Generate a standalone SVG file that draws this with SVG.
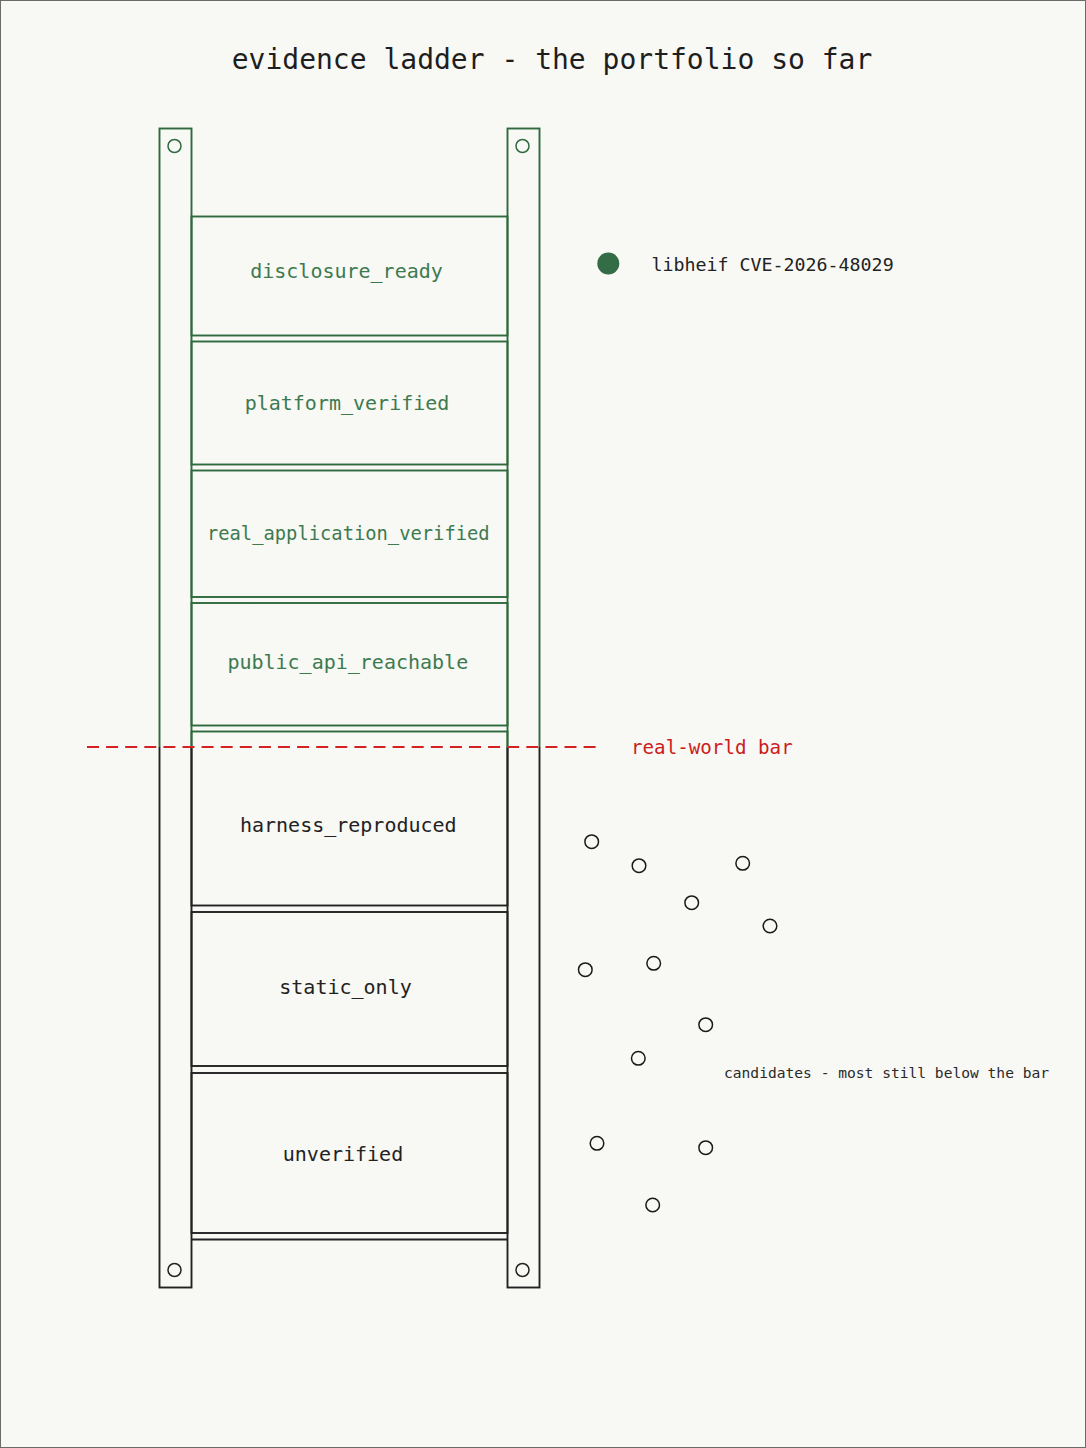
<svg xmlns="http://www.w3.org/2000/svg" width="1086" height="1448" viewBox="0 0 1086 1448">
  <defs>
    <linearGradient id="tone" gradientUnits="userSpaceOnUse" x1="0" y1="0" x2="0" y2="1448">
      <stop offset="0.5159" stop-color="#2f6a3e"/>
      <stop offset="0.5159" stop-color="#222222"/>
    </linearGradient>
    <style>
      .mono { font-family: "DejaVu Sans Mono", "Liberation Mono", monospace; }
      .frame { fill: none; stroke: url(#tone); stroke-width: 1.9; }
      .rung { fill: none; stroke: url(#tone); stroke-width: 1.9; }
      .bolt { fill: none; stroke-width: 1.5; }
      .lg { fill: #3d7a50; font-size: 20px; text-anchor: middle; }
      .lk { fill: #222222; font-size: 20px; text-anchor: middle; }
      .cand { fill: none; stroke: #1a1a1a; stroke-width: 1.5; }
    </style>
  </defs>

  <rect x="0" y="0" width="1086" height="1448" fill="#f8f8f4"/>
  <rect x="0.5" y="0.5" width="1085" height="1447" fill="none" stroke="#6a6a6a" stroke-width="1"/>

  <text class="mono" x="552" y="69" font-size="28" fill="#1e1e1e" text-anchor="middle">evidence ladder - the portfolio so far</text>

  <g id="rail-left">
    <rect class="frame" x="159.5" y="128.5" width="32" height="1159"/>
    <circle class="bolt" cx="174.5" cy="146" r="6.5" stroke="#2f6a3e"/>
    <circle class="bolt" cx="174.5" cy="1270" r="6.5" stroke="#222222"/>
  </g>
  <g id="rail-right">
    <rect class="frame" x="507.5" y="128.5" width="32" height="1159"/>
    <circle class="bolt" cx="522.5" cy="146" r="6.5" stroke="#2f6a3e"/>
    <circle class="bolt" cx="522.5" cy="1270" r="6.5" stroke="#222222"/>
  </g>

  <g id="rung-disclosure_ready">
    <rect class="rung" x="191.5" y="216.5" width="316" height="119"/>
    <text class="mono lg" x="346.5" y="278">disclosure_ready</text>
  </g>
  <g id="rung-platform_verified">
    <rect class="rung" x="191.5" y="341.5" width="316" height="123"/>
    <text class="mono lg" x="347" y="410">platform_verified</text>
  </g>
  <g id="rung-real_application_verified">
    <rect class="rung" x="191.5" y="470.5" width="316" height="126.5"/>
    <text class="mono lg" x="348.3" y="540" style="font-size:18.8px">real_application_verified</text>
  </g>
  <g id="rung-public_api_reachable">
    <rect class="rung" x="191.5" y="603" width="316" height="122.5"/>
    <text class="mono lg" x="347.8" y="668.5">public_api_reachable</text>
  </g>
  <g id="rung-harness_reproduced">
    <rect class="rung" x="191.5" y="731.5" width="316" height="174"/>
    <text class="mono lk" x="348.3" y="831.5">harness_reproduced</text>
  </g>
  <g id="rung-static_only">
    <rect class="rung" x="191.5" y="912" width="316" height="154"/>
    <text class="mono lk" x="345.5" y="994">static_only</text>
  </g>
  <g id="rung-unverified">
    <rect class="rung" x="191.5" y="1073" width="316" height="160"/>
    <text class="mono lk" x="343" y="1161">unverified</text>
  </g>
  <g id="rung-base">
    <line class="rung" x1="191.5" y1="1239.5" x2="507.5" y2="1239.5"/>
  </g>

  <g id="connectors">
    <line x1="87" y1="747" x2="601" y2="747" stroke="#d42222" stroke-width="2" stroke-dasharray="12 7.1"/>
  </g>

  <g id="bar-label">
    <text class="mono" x="631" y="753.5" font-size="19.2" fill="#cc1c1c">real-world bar</text>
  </g>

  <g id="libheif">
    <circle cx="608.3" cy="263.5" r="11" fill="#346c45"/>
    <text class="mono" x="651.5" y="270.5" font-size="18.3" fill="#222222">libheif CVE-2026-48029</text>
  </g>

  <g id="candidates">
    <circle class="cand" cx="591.7" cy="841.7" r="6.8"/>
    <circle class="cand" cx="639" cy="865.7" r="6.8"/>
    <circle class="cand" cx="742.7" cy="863.3" r="6.8"/>
    <circle class="cand" cx="691.7" cy="902.7" r="6.8"/>
    <circle class="cand" cx="770" cy="926" r="6.8"/>
    <circle class="cand" cx="585.3" cy="969.7" r="6.8"/>
    <circle class="cand" cx="653.7" cy="963.3" r="6.8"/>
    <circle class="cand" cx="705.7" cy="1024.7" r="6.8"/>
    <circle class="cand" cx="638.3" cy="1058.3" r="6.8"/>
    <circle class="cand" cx="597" cy="1143.3" r="6.8"/>
    <circle class="cand" cx="705.7" cy="1147.7" r="6.8"/>
    <circle class="cand" cx="652.7" cy="1205" r="6.8"/>
    <text class="mono" x="724" y="1078.3" font-size="14.6" fill="#2a2a2a">candidates - most still below the bar</text>
  </g>
</svg>
